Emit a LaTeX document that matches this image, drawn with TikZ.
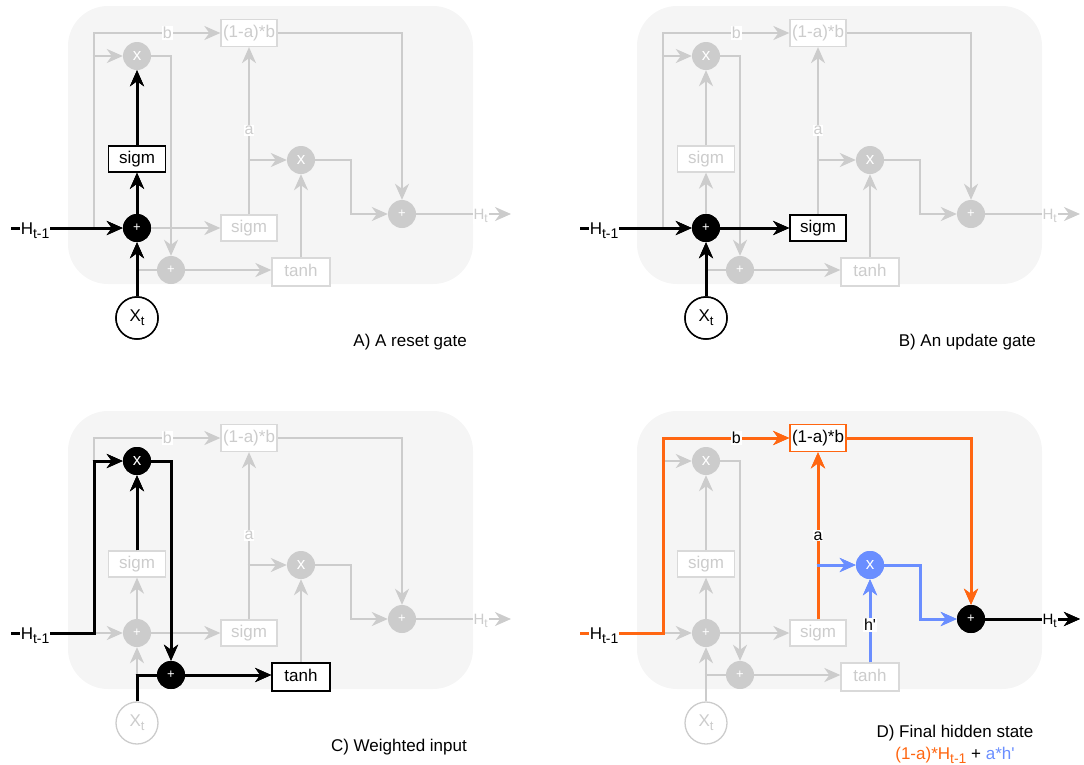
\documentclass[tikz,border=0pt]{standalone}
\usepackage{fontspec}
\setmainfont{Liberation Sans}
\usetikzlibrary{arrows.meta}
\definecolor{lg}{HTML}{CCCCCC}
\definecolor{lgb}{HTML}{D9D9D9}
\definecolor{bgc}{HTML}{F5F5F5}
\definecolor{org}{HTML}{FF6611}
\definecolor{blu}{HTML}{6A8EFF}
\newcommand\fs[1]{\fontsize{#1}{#1}\selectfont}
\newcommand\hplab{}
\newcommand\Hin{H\raisebox{-4pt}{\fs{14}t-1}}
\tikzset{
  ghook/.style={},
  gl/.style={draw=lg, line width=2pt, text=lg, ghook},
  bl/.style={draw=black, line width=3pt, text=black},
  ol/.style={draw=org, line width=3pt, text=black},
  ul/.style={draw=blu, line width=3pt, text=black},
  ar/.style={-{Stealth[length=16pt,width=14pt,inset=5pt]}},
  crc/.style={circle, minimum size=28pt, inner sep=0pt, text=white},
  gcirc/.style={crc, fill=lg, ghook},
  bcirc/.style={crc, fill=black},
  ucirc/.style={crc, fill=blu},
  bx/.style={rectangle, fill=white, inner sep=0pt, minimum height=26pt, text height=12pt, text depth=3.5pt, font=\fs{17}},
  gbox/.style={bx, draw=lgb, line width=1.3pt, text=lg, ghook},
  bbox/.style={bx, draw=black, line width=1.5pt, text=black},
  obox/.style={bx, draw=org, line width=1.5pt, text=black},
  xtc/.style={circle, minimum size=42pt, inner sep=0pt, fill=white, font=\fs{17}},
  gxt/.style={xtc, draw=lg, line width=1.3pt, text=lg, ghook},
  bxt/.style={xtc, draw=black, line width=1.5pt, text=black},
  lab/.style={fill=white, inner sep=1pt, font=\fs{16}},
  tmlab/.style={inner sep=0pt},
  hlab/.style={fill=white, inner sep=1pt, anchor=base, yshift=-6pt, font=\fs{17}},
  olab/.style={fill=white, inner sep=1pt, anchor=base, yshift=-5pt, font=\fs{15}},
  capt/.style={font=\fs{17}, text=black, inner sep=0pt},
  n-p1/.style={gcirc}, n-s1/.style={gbox}, n-m1/.style={gcirc}, n-ab/.style={gbox},
  n-s2/.style={gbox}, n-m2/.style={gcirc}, n-p3/.style={gcirc}, n-th/.style={gbox},
  n-p2/.style={gcirc}, n-xt/.style={gxt},
  e-hin/.style={gl}, e-hp1/.style={gl}, e-tlo/.style={gl}, e-thi/.style={gl},
  e-br/.style={gl}, e-xt/.style={gl}, e-xp1/.style={gl}, e-xp2/.style={gl},
  e-p1s1/.style={gl}, e-s1m1/.style={gl}, e-m1p2/.style={gl}, e-p1s2/.style={gl},
  e-s2ab/.style={gl}, e-am2/.style={gl}, e-p2t/.style={gl}, e-tm2/.style={gl},
  e-m2p3/.style={gl}, e-abp3/.style={gl}, e-out/.style={gl}
}
\newcommand\grucell[1]{%
  \node[n-p1] (#1p1) at (137,228) {\fs{13}+};
  \node[n-s1, minimum width=57pt] (#1s1) at (137,159) {sigm};
  \node[n-m1] (#1m1) at (137,56) {\fs{17}x};
  \node[n-ab, minimum width=56pt, minimum height=27pt] (#1ab) at (249,33) {(1-a)*b};
  \node[n-s2, minimum width=56pt] (#1s2) at (249,228) {sigm};
  \node[n-m2] (#1m2) at (301,160) {\fs{17}x};
  \node[n-p3] (#1p3) at (402,214) {\fs{13}+};
  \node[n-th, minimum width=58pt, minimum height=28pt] (#1th) at (301,272) {tanh};
  \node[n-p2] (#1p2) at (171,270) {\fs{13}+};
  \node[n-xt] (#1xt) at (137,318) {X\raisebox{-4pt}{\fs{13}t}};
  \coordinate (#1hs) at (11,228);
  \coordinate (#1jH) at (94,228);
  \coordinate (#1jB) at (94,56);
  \coordinate (#1jT) at (94,33);
  \coordinate (#1jX) at (137,270);
  \coordinate (#1jA) at (249,160);
  \coordinate (#1cM) at (351,160);
  \coordinate (#1ho) at (511,214);
  \draw[e-hin, shorten >=-1.5pt] (#1hs) -- node[hlab, pos=0.29] {\Hin} (#1jH);
  \draw[e-hp1, ar, shorten <=-1.5pt] (#1jH) -- (#1p1);
  \draw[e-tlo, shorten <=-1.5pt, shorten >=-1.5pt] (#1jH) -- (#1jB);
  \draw[e-thi, ar, shorten <=-1.5pt] (#1jB) -- (#1jT) -- node[lab, pos=0.58] {b} (#1ab);
  \draw[e-br, ar, shorten <=-1.5pt] (#1jB) -- (#1m1);
  \draw[e-xt, shorten >=-1.5pt] (#1xt) -- (#1jX);
  \draw[e-xp1, ar, shorten <=-1.5pt] (#1jX) -- (#1p1);
  \draw[e-xp2, shorten <=-1.5pt] (#1jX) -- (#1p2);
  \draw[e-p1s1, ar] (#1p1) -- (#1s1);
  \draw[e-s1m1, ar] (#1s1) -- (#1m1);
  \draw[e-m1p2, ar] (#1m1) -| (#1p2);
  \draw[e-p1s2, ar] (#1p1) -- (#1s2);
  \draw[e-s2ab, ar] (#1s2) -- node[lab, pos=0.5] {a} (#1ab);
  \draw[e-am2, ar, shorten <=-1.5pt] (#1jA) -- (#1m2);
  \draw[e-p2t, ar] (#1p2) -- (#1p2 -| #1th.west);
  \draw[e-tm2, ar] (#1th) -- node[tmlab, pos=0.45] {\hplab} (#1m2);
  \draw[e-m2p3, ar] (#1m2) -- (#1cM) |- (#1p3);
  \draw[e-abp3, ar] (#1ab) -| (#1p3);
  \draw[e-out, ar] (#1p3) -- node[olab, pos=0.68] {H\raisebox{-3.5pt}{\fs{12}t}} (#1ho);
}
\begin{document}
\begin{tikzpicture}[x=1pt, y=-1pt]
\useasboundingbox (0,0) rectangle (1084,764);
% Panel A
\begin{scope}[n-p1/.style={bcirc}, n-s1/.style={bbox}, n-xt/.style={bxt},
  e-hin/.style={bl}, e-hp1/.style={bl}, e-xt/.style={bl}, e-xp1/.style={bl},
  e-p1s1/.style={bl}, e-s1m1/.style={bl}]
  \fill[bgc, rounded corners=40pt] (68,6) rectangle (473,284);
  \grucell{A}
  \begin{scope}[ghook/.style={opacity=0, text opacity=0}]\grucell{A}\end{scope}
  \node[capt, anchor=east] (Acap) at (467,342) {A) A reset gate};
\end{scope}
% Panel B
\begin{scope}[shift={(569,0)}, n-p1/.style={bcirc}, n-s2/.style={bbox}, n-xt/.style={bxt},
  e-hin/.style={bl}, e-hp1/.style={bl}, e-xt/.style={bl}, e-xp1/.style={bl},
  e-p1s2/.style={bl}]
  \fill[bgc, rounded corners=40pt] (68,6) rectangle (473,284);
  \grucell{B}
  \begin{scope}[ghook/.style={opacity=0, text opacity=0}]\grucell{B}\end{scope}
  \node[capt, anchor=east] (Bcap) at (467,342) {B) An update gate};
\end{scope}
% Panel C
\begin{scope}[shift={(0,405)}, n-m1/.style={bcirc}, n-p2/.style={bcirc}, n-th/.style={bbox},
  e-hin/.style={bl}, e-tlo/.style={bl}, e-br/.style={bl}, e-s1m1/.style={bl},
  e-m1p2/.style={bl}, e-xt/.style={bl}, e-xp2/.style={bl}, e-p2t/.style={bl}]
  \fill[bgc, rounded corners=40pt] (68,6) rectangle (473,284);
  \grucell{C}
  \begin{scope}[ghook/.style={opacity=0, text opacity=0}]\grucell{C}\end{scope}
  \node[capt, anchor=east] (Ccap) at (467,342) {C) Weighted input};
\end{scope}
% Panel D
\begin{scope}[shift={(569,405)}, n-ab/.style={obox}, n-m2/.style={ucirc}, n-p3/.style={bcirc},
  e-hin/.style={ol}, e-tlo/.style={ol}, e-thi/.style={ol}, e-abp3/.style={ol},
  e-s2ab/.style={ol}, e-am2/.style={ul}, e-tm2/.style={ul}, e-m2p3/.style={ul},
  e-out/.style={bl}, tmlab/.style={lab}]
  \renewcommand\hplab{h\textquotesingle}
  \fill[bgc, rounded corners=40pt] (68,6) rectangle (473,284);
  \grucell{D}
  \begin{scope}[ghook/.style={opacity=0, text opacity=0}]\grucell{D}\end{scope}
  \node[capt, align=center, font=\fontsize{17}{22}\selectfont] (Dcap) at (386,339)
    {D) Final hidden state\\{\color{org}(1-a)*H\raisebox{-4pt}{\fs{14}t-1}} + {\color{blu}a*h\textquotesingle}};
\end{scope}
\end{tikzpicture}
\end{document}
